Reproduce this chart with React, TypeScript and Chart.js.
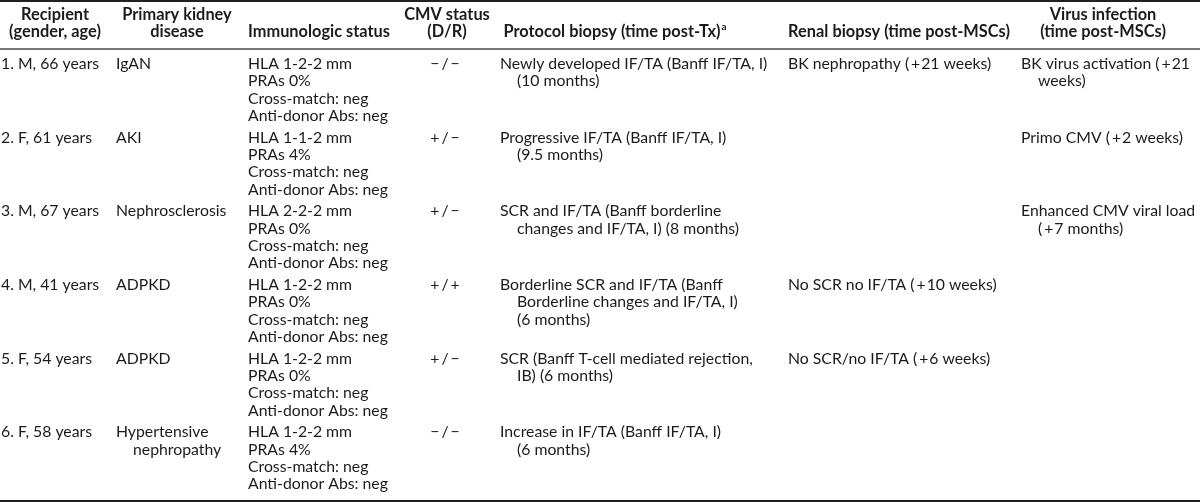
import { useEffect, useRef } from "react";
import { Chart, registerables } from "chart.js";

Chart.register(...registerables);

// ---------- Table content ----------
const headers: string[][] = [
  ["Recipient", "(gender, age)"],
  ["Primary kidney", "disease"],
  ["Immunologic status"],
  ["CMV status", "(D/R)"],
  ["Protocol biopsy (time post-Tx)"],
  ["Renal biopsy (time post-MSCs)"],
  ["Virus infection", "(time post-MSCs)"],
];
const protocolFootnote = "a";

const recipients = [
  "1. M, 66 years",
  "2. F, 61 years",
  "3. M, 67 years",
  "4. M, 41 years",
  "5. F, 54 years",
  "6. F, 58 years",
];
const kidneyDisease: string[][] = [
  ["IgAN"],
  ["AKI"],
  ["Nephrosclerosis"],
  ["ADPKD"],
  ["ADPKD"],
  ["Hypertensive", "nephropathy"],
];
const hla = ["HLA 1-2-2 mm", "HLA 1-1-2 mm", "HLA 2-2-2 mm", "HLA 1-2-2 mm", "HLA 1-2-2 mm", "HLA 1-2-2 mm"];
const pras = ["PRAs 0%", "PRAs 4%", "PRAs 0%", "PRAs 0%", "PRAs 0%", "PRAs 4%"];
const crossMatch = ["Cross-match: neg", "Cross-match: neg", "Cross-match: neg", "Cross-match: neg", "Cross-match: neg", "Cross-match: neg"];
const antiDonor = ["Anti-donor Abs: neg", "Anti-donor Abs: neg", "Anti-donor Abs: neg", "Anti-donor Abs: neg", "Anti-donor Abs: neg", "Anti-donor Abs: neg"];
const cmvStatus = ["\u2212/\u2212", "+/\u2212", "+/\u2212", "+/+", "+/\u2212", "\u2212/\u2212"];
const protocolBiopsy: string[][] = [
  ["Newly developed IF/TA (Banff IF/TA, I)", "(10 months)"],
  ["Progressive IF/TA (Banff IF/TA, I)", "(9.5 months)"],
  ["SCR and IF/TA (Banff borderline", "changes and IF/TA, I) (8 months)"],
  ["Borderline SCR and IF/TA (Banff", "Borderline changes and IF/TA, I)", "(6 months)"],
  ["SCR (Banff T-cell mediated rejection,", "IB) (6 months)"],
  ["Increase in IF/TA (Banff IF/TA, I)", "(6 months)"],
];
const renalBiopsy: string[][] = [
  ["BK nephropathy (+21 weeks)"],
  [],
  [],
  ["No SCR no IF/TA (+10 weeks)"],
  ["No SCR/no IF/TA (+6 weeks)"],
  [],
];
const virusInfection: string[][] = [
  ["BK virus activation (+21", "weeks)"],
  ["Primo CMV (+2 weeks)"],
  ["Enhanced CMV viral load", "(+7 months)"],
  [],
  [],
  [],
];

// ---------- Layout / style ----------
const FONT = "Lato, 'Open Sans', 'Noto Sans', sans-serif";
const TEXT = "#1e1a1b";
const colLeft = [1, 116, 248, 445, 500, 788, 1021];
const headerCenter = [55, 177, 319, 447, 612, 899, 1103];
const hangIndent = 17;
const lineStep = 17.3;

// typographic spacing around math signs (display only)
const spaced = (t: string) =>
  t.replace(/\(\+/g, "(\u2009+\u200a").replace(/\//g, (m, off, s) => (s.length <= 3 ? "\u2009/\u2009" : m));

export default function App() {
  const ref = useRef<HTMLCanvasElement>(null);

  useEffect(() => {
    document.body.style.margin = "0";
    const canvas = ref.current!;

    const tablePlugin = {
      id: "tablePlugin",
      afterDraw(chart: any) {
        const ctx: CanvasRenderingContext2D = chart.ctx;
        const xs = chart.scales.x;
        const ys = chart.scales.y;
        const W = chart.width;

        // fit font sizes to the reference widths
        ctx.font = `100px ${FONT}`;
        const bodySize = (100 * 140) / ctx.measureText("Anti-donor Abs: neg").width;
        ctx.font = `bold 100px ${FONT}`;
        const headSize = (100 * 222) / ctx.measureText("Renal biopsy (time post-MSCs)").width;
        const bodyFont = `${bodySize.toFixed(2)}px ${FONT}`;
        const headFont = `bold ${headSize.toFixed(2)}px ${FONT}`;

        ctx.save();
        ctx.textBaseline = "middle";

        // rules
        ctx.fillStyle = "#231f20";
        ctx.fillRect(0, 0, W, 2);
        ctx.fillStyle = "#77787b";
        ctx.fillRect(0, 48, W, 2);
        ctx.fillStyle = "#231f20";
        ctx.fillRect(0, 500, W, 2);

        // header
        ctx.fillStyle = TEXT;
        ctx.font = headFont;
        headers.forEach((lines, c) => {
          const cx = xs.getPixelForValue(headerCenter[c]);
          const startLine = 2 - lines.length; // bottom aligned
          lines.forEach((t, k) => {
            const y = 14.5 + (startLine + k) * 17.5;
            ctx.textAlign = "center";
            ctx.fillText(t, cx, y);
            if (c === 4) {
              const w = ctx.measureText(t).width;
              ctx.save();
              ctx.font = `bold ${(headSize * 0.6).toFixed(2)}px ${FONT}`;
              ctx.textAlign = "left";
              ctx.fillText(protocolFootnote, cx + w / 2 + 1, y - 5);
              ctx.restore();
            }
          });
        });

        // body
        ctx.font = bodyFont;
        const band = ys.getPixelForValue(1) - ys.getPixelForValue(0);
        const drawLines = (lines: string[], col: number, row: number, align: "left" | "center" = "left") => {
          const top = ys.getPixelForValue(row) - band / 2;
          const x0 = xs.getPixelForValue(colLeft[col]);
          ctx.textAlign = align;
          lines.forEach((t, k) => {
            const x = align === "left" && k > 0 ? x0 + hangIndent : x0;
            ctx.fillText(spaced(t), x, top + 12 + k * lineStep);
          });
        };

        recipients.forEach((r, i) => {
          drawLines([r], 0, i);
          drawLines(kidneyDisease[i], 1, i);
          const top = ys.getPixelForValue(i) - band / 2;
          ctx.textAlign = "left";
          [hla[i], pras[i], crossMatch[i], antiDonor[i]].forEach((t, k) => {
            ctx.fillText(t, xs.getPixelForValue(colLeft[2]), top + 12 + k * lineStep);
          });
          drawLines([cmvStatus[i]], 3, i, "center");
          drawLines(protocolBiopsy[i], 4, i);
          drawLines(renalBiopsy[i], 5, i);
          drawLines(virusInfection[i], 6, i);
        });
        ctx.restore();
      },
    };

    const chart = new Chart(canvas, {
      type: "scatter",
      data: {
        labels: recipients,
        datasets: [{ data: [] }],
      },
      options: {
        animation: false,
        responsive: false,
        events: [],
        layout: { padding: { top: 52, bottom: 8, left: 0, right: 0 } },
        plugins: { legend: { display: false }, tooltip: { enabled: false } },
        scales: {
          x: { type: "linear", min: 0, max: 1200, display: false },
          y: { type: "category", labels: recipients, offset: true, display: false },
        },
      },
      plugins: [tablePlugin],
    } as any);

    return () => chart.destroy();
  }, []);

  return <canvas ref={ref} width={1200} height={502} style={{ display: "block" }} />;
}
